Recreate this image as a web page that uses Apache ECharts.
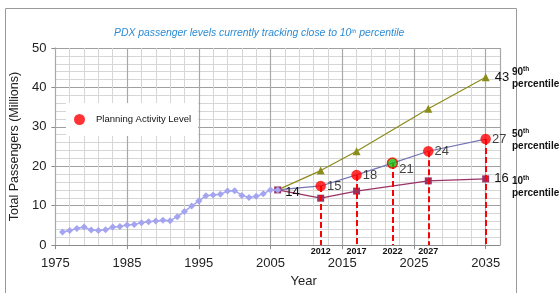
<!DOCTYPE html>
<html>
<head>
<meta charset="utf-8">
<script src="https://cdn.jsdelivr.net/npm/echarts@6/dist/echarts.min.js"></script>
<style>
html, body { margin: 0; padding: 0; background: #fff; }
#chart { width: 559px; height: 293px; }
</style>
</head>
<body>
<div id="chart"></div>
<script>
// years are drawn relative to the first year so ticks land on 1975, 1985, ...
const baseYear = 1975
const histYears = [1976, 1977, 1978, 1979, 1980, 1981, 1982, 1983, 1984, 1985, 1986, 1987, 1988, 1989, 1990,
  1991, 1992, 1993, 1994, 1995, 1996, 1997, 1998, 1999, 2000, 2001, 2002, 2003, 2004, 2005, 2006]
const histValues = [3.3, 3.7, 4.2, 4.6, 3.8, 3.7, 3.9, 4.6, 4.7, 5.1, 5.2, 5.7, 5.9, 6.1, 6.3,
  6.2, 7.2, 8.5, 9.9, 11.2, 12.5, 12.7, 12.9, 13.7, 13.8, 12.6, 12.1, 12.4, 13.0, 14.0, 14.0]

const forecastYears = [2006, 2012, 2017, 2027, 2035]
const p90Values = [14, 18.9, 23.8, 34.6, 42.6]
const p10Values = [14, 11.9, 13.7, 16.3, 16.8]

const p50Years = [2006, 2012, 2017, 2022, 2027, 2035]
const p50Values = [14, 15, 17.8, 20.8, 23.8, 26.9]

const planYears = [2012, 2017, 2022, 2027, 2035]
const planValues = [15, 17.8, 20.8, 23.8, 26.9]
const planLabels = ['15', '18', '21', '24', '27']
const planYearLabels = ['2012', '2017', '2022', '2027', '']

const startLabel = '14'
const p90EndLabel = '43'
const p10EndLabel = '16'

const font = 'Liberation Sans, Arial, sans-serif'

const chart = echarts.init(document.getElementById('chart'))

const toPoints = (years, values) => years.map((y, i) => [y - baseYear, values[i]])

const sideRich = {
  n: { fontSize: 10, fontWeight: 'bold', fill: '#111', fontFamily: font, lineHeight: 12 },
  s: { fontSize: 6.5, fontWeight: 'bold', fill: '#111', fontFamily: font, verticalAlign: 'top', lineHeight: 12 }
}

const option = {
  animation: false,
  textStyle: { fontFamily: font },
  title: {
    text: '{a|PDX passenger levels currently tracking close to 10}{s|th}{a| percentile}',
    left: 109,
    top: 23,
    textStyle: {
      fontWeight: 'normal',
      rich: {
        a: { fontSize: 10.4, fontStyle: 'italic', fontWeight: 'normal', color: '#2d8bd3', fontFamily: font },
        s: { fontSize: 6, fontStyle: 'italic', fontWeight: 'normal', color: '#2d8bd3', fontFamily: font, verticalAlign: 'top', padding: [0, 0, 4, 0] }
      }
    }
  },
  legend: {
    data: ['Planning Activity Level'],
    left: 66,
    top: 103,
    backgroundColor: '#fff',
    padding: [11, 7, 11, 8],
    itemWidth: 11,
    itemHeight: 11,
    icon: 'circle',
    textStyle: { fontSize: 9.5, color: '#111', fontFamily: font, padding: [0, 0, 0, 6] }
  },
  grid: { left: 53, right: 59, top: 48, bottom: 44.5 },
  xAxis: [
    {
      type: 'value',
      min: 0,
      max: 62,
      interval: 10,
      z: 1,
      name: 'Year',
      nameLocation: 'middle',
      nameGap: 24,
      nameTextStyle: { fontSize: 13, color: '#222', padding: [0, 0, 0, 52] },
      axisLine: { lineStyle: { color: '#8a8a8a' } },
      axisTick: { length: 4, lineStyle: { color: '#8a8a8a' } },
      axisLabel: {
        formatter: v => String(v + baseYear),
        showMaxLabel: false,
        fontSize: 13,
        color: '#222',
        margin: 12
      },
      splitLine: { lineStyle: { color: '#a8a8a8', width: 1.2 } }
    },
    {
      type: 'value',
      min: 0,
      max: 62,
      interval: 2,
      z: 0,
      position: 'bottom',
      axisLine: { show: false },
      axisTick: { show: false },
      axisLabel: { show: false },
      splitLine: { lineStyle: { color: '#d6d6d6' } }
    }
  ],
  yAxis: {
    type: 'value',
    min: 0,
    max: 50,
    interval: 10,
    name: 'Total Passengers (Millions)',
    nameLocation: 'middle',
    nameGap: 31,
    nameTextStyle: { fontSize: 12.5, color: '#222' },
    axisLine: { show: true, lineStyle: { color: '#8a8a8a' } },
    axisTick: { show: true, length: 4, lineStyle: { color: '#8a8a8a' } },
    axisLabel: { fontSize: 13, color: '#222', margin: 9 },
    minorTick: { show: false, splitNumber: 5 },
    minorSplitLine: { show: true, lineStyle: { color: '#d6d6d6' } },
    splitLine: { lineStyle: { color: '#a0a0a0', width: 1.2 } }
  },
  series: [
    {
      type: 'line',
      name: 'Historical',
      data: toPoints(histYears, histValues),
      symbol: 'diamond',
      symbolSize: 7,
      color: '#a4a4f0',
      lineStyle: { width: 1.5 },
      z: 4
    },
    {
      type: 'line',
      name: '10th',
      data: toPoints(forecastYears, p10Values).map((p, i) => {
        if (i === 0) return { value: p, label: { show: true, formatter: startLabel, position: 'right', distance: 4, offset: [0, 3] } }
        if (i === p10Values.length - 1) return { value: p, label: { show: true, formatter: p10EndLabel, position: 'right', distance: 5 } }
        return p
      }),
      symbol: 'rect',
      symbolSize: 7,
      color: '#993366',
      lineStyle: { width: 1.3 },
      label: { fontSize: 13, color: '#111' },
      z: 3
    },
    {
      type: 'line',
      name: '50th',
      data: toPoints(p50Years, p50Values),
      showSymbol: false,
      color: '#7474b4',
      lineStyle: { width: 1.2 },
      z: 3
    },
    {
      type: 'line',
      name: '90th',
      data: toPoints(forecastYears, p90Values).map((p, i) => {
        if (i === 0) return { value: p, symbol: 'none' }
        if (i === p90Values.length - 1) return { value: p, label: { show: true, formatter: p90EndLabel, position: 'right', distance: 5 } }
        return p
      }),
      symbol: 'triangle',
      symbolSize: 8,
      color: '#8c8c1c',
      lineStyle: { width: 1.2 },
      label: { fontSize: 13, color: '#111' },
      z: 3
    },
    {
      type: 'scatter',
      name: 'Planning Activity Level',
      data: toPoints(planYears, planValues).map((p, i) => {
        const item = { value: p, label: { formatter: planLabels[i] } }
        if (planYears[i] === 2022) {
          item.itemStyle = { color: '#10c010', borderColor: '#ff0000', borderWidth: 1.5 }
          item.symbolSize = 10
          item.label.offset = [0, 6]
        }
        return item
      }),
      symbolSize: 10.5,
      color: '#ff0000',
      label: { show: true, position: 'right', distance: 1, fontSize: 13, color: '#111' },
      z: 6,
      markLine: {
        silent: true,
        symbol: ['none', 'none'],
        z: 5,
        lineStyle: { color: '#ff0000', type: [6, 3], width: 2 },
        label: { show: true, position: 'end', distance: 2, fontSize: 9, fontWeight: 'bold', color: '#111' },
        data: planYears.map((y, i) => [
          {
            coord: [y - baseYear, planValues[i]],
            label: { show: planYearLabels[i] !== '', formatter: planYearLabels[i] }
          },
          { coord: [y - baseYear, 0] }
        ])
      }
    }
  ],
  graphic: [
    {
      type: 'rect',
      silent: true,
      z: -10,
      shape: { x: 5.5, y: 8.5, width: 511, height: 300 },
      style: { fill: 'none', stroke: '#9a9a9a', lineWidth: 1 }
    },
    {
      type: 'text',
      x: 512,
      y: 66,
      style: { text: '{n|90}{s|th}\n{n|percentile}', rich: sideRich }
    },
    {
      type: 'text',
      x: 512,
      y: 128,
      style: { text: '{n|50}{s|th}\n{n|percentile}', rich: sideRich }
    },
    {
      type: 'text',
      x: 512,
      y: 175,
      style: { text: '{n|10}{s|th}\n{n|percentile}', rich: sideRich }
    }
  ]
}

chart.setOption(option)
</script>
</body>
</html>
